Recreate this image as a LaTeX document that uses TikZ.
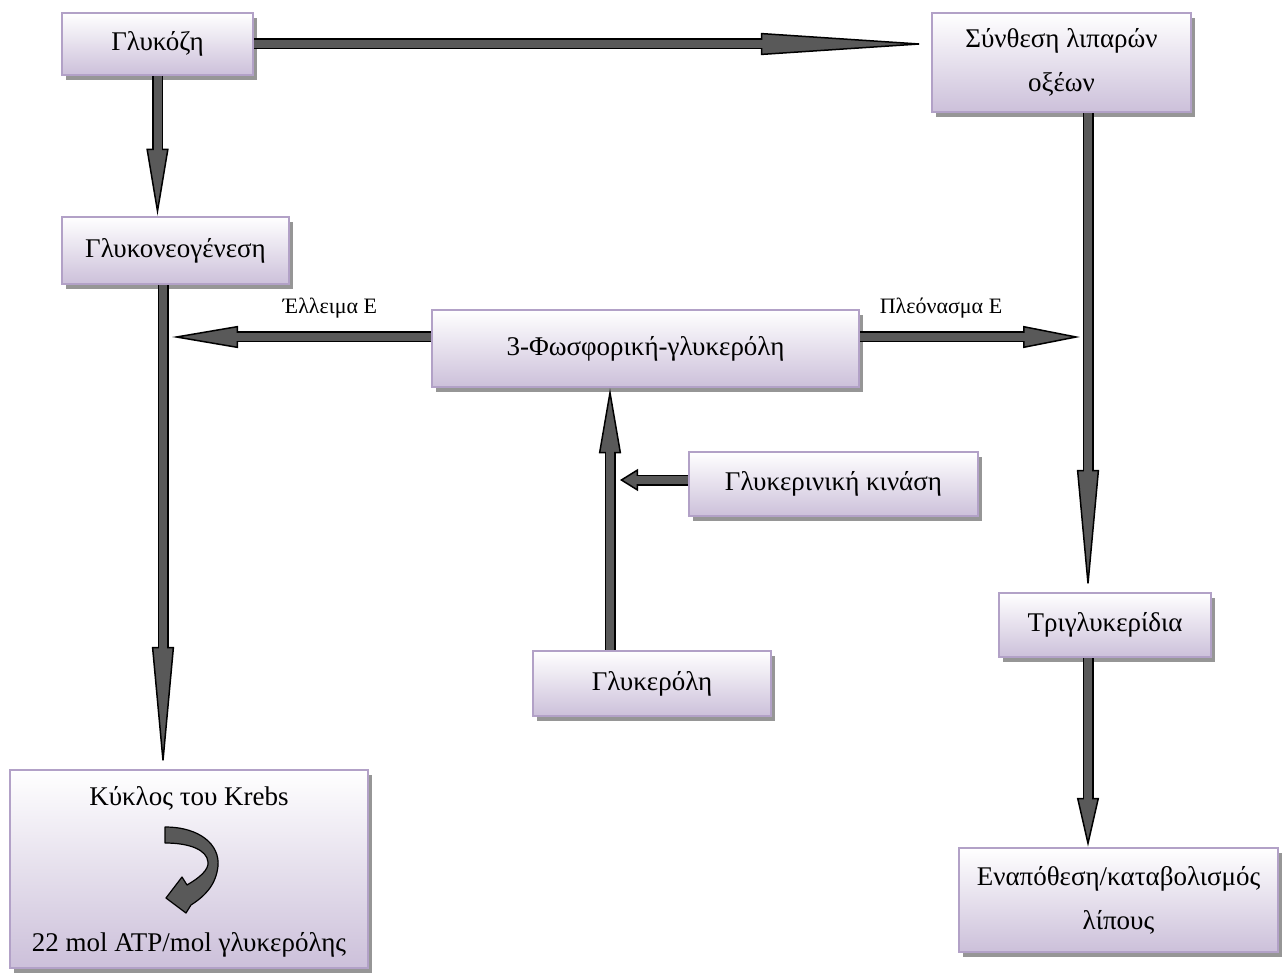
\documentclass[tikz,border=0pt]{standalone}
\usepackage{fontspec}
\setmainfont{Liberation Serif}
\usetikzlibrary{arrows.meta,shadows}

\definecolor{boxlav}{RGB}{204,192,218}
\definecolor{boxedge}{RGB}{178,161,199}
\definecolor{arrgray}{RGB}{89,89,89}
\definecolor{shadegray}{RGB}{150,150,150}

\begin{document}
\begin{tikzpicture}
  [x=1pt,y=-1pt,font=\fontsize{27}{44}\selectfont,
   box/.style={draw=boxedge,line width=2.5pt,top color=white,bottom color=boxlav,
     inner sep=0pt,align=center,
     drop shadow={shadow xshift=4pt,shadow yshift=-5pt,fill=shadegray,opacity=1}},
   blockarr/.style={draw=black,line width=11pt,
     -{Triangle[length=#1 0 1,width=22pt 0 1,line width=1.5pt,fill=arrgray]},
     postaction={draw=arrgray,line width=8pt,-,shorten >=#1-3pt}}]

  \tikzstyle{lbl} = [font=\fontsize{22}{26}\selectfont]

  \useasboundingbox (0,0) rectangle (1283,976);

  \node[box,minimum width=191pt,minimum height=62pt]  (1) at (157.5,44)   {Γλυκόζη};
  \node[box,minimum width=259pt,minimum height=99pt]  (2) at (1061.5,62.5) {Σύνθεση λιπαρών\\οξέων};
  \node[box,minimum width=227pt,minimum height=67pt]  (3) at (175.5,250.5) {Γλυκονεογένεση};
  \node[box,minimum width=427pt,minimum height=77pt]  (4) at (645.5,348.5) {3-Φωσφορική-γλυκερόλη};
  \node[box,minimum width=289pt,minimum height=64pt]  (5) at (833.5,484)   {Γλυκερινική κινάση};
  \node[box,minimum width=238pt,minimum height=65pt]  (6) at (652,683.5)   {Γλυκερόλη};
  \node[box,minimum width=212pt,minimum height=64pt]  (7) at (1105,625)    {Τριγλυκερίδια};
  \node[box,minimum width=319pt,minimum height=104pt] (8) at (1118.5,900)  {Εναπόθεση/καταβολισμός\\λίπους};
  \node[box,minimum width=358pt,minimum height=198pt] (9) at (189,869)     {};

  \node (10) at (189,798) {Κύκλος του Krebs};
  \node (11) at (189,945) {22 mol ATP/mol γλυκερόλης};
  \node[lbl] (12) at (330,308) {Έλλειμα Ε};
  \node[lbl] (13) at (941,308) {Πλεόνασμα Ε};

  % arrow ends
  \coordinate (a) at (172,337);
  \coordinate (b) at (1080,337);
  \coordinate (c) at (620,480);
  \coordinate (d) at ([xshift=-12.5pt]3.south);
  \coordinate (e) at ([xshift=26.5pt]2.south);
  \coordinate (f) at ([xshift=-42pt]6.north);

  \draw[blockarr=170pt] (1.east) -- (1.east -| 2.west);
  \draw[blockarr=67pt]  (1.south) -- (1.south |- 3.north);
  \draw[blockarr=122pt] (d) -- (d |- 9.north);
  \draw[blockarr=122pt] (e) -- (e |- 7.north);
  \draw[blockarr=49pt]  (e |- 7.south) -- (e |- 8.north);
  \draw[blockarr=66pt]  (4.west |- a) -- (a);
  \draw[blockarr=57pt]  (4.east |- b) -- (b);
  \draw[blockarr=65pt]  (f) -- (f |- 4.south);
  \draw[blockarr=18pt]  (5.west |- c) -- (c);

  % turn arrow in the Krebs box
  \filldraw[fill=arrgray,draw=black,line width=1.2pt,line join=round]
    (165,827) .. controls (200,827) and (220,845) .. (218,866)
    .. controls (216,885) and (205,896) .. (191,905)
    -- (186,913) -- (166,898) -- (182,877) -- (187,885)
    .. controls (199,878) and (209,870) .. (208,862)
    .. controls (207,850) and (190,843) .. (165,843) -- cycle;
\end{tikzpicture}
\end{document}
